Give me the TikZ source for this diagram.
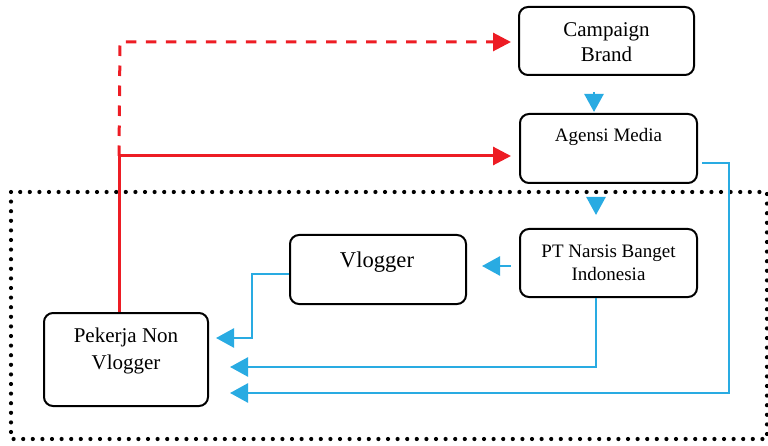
\documentclass[tikz,border=0pt]{standalone}
\usepackage{fontspec}
\setmainfont{Liberation Serif}
\usetikzlibrary{arrows.meta}
\definecolor{myred}{RGB}{237,28,36}
\definecolor{myblue}{RGB}{41,171,226}
\begin{document}
\begin{tikzpicture}[x=1pt,y=-1pt,
  box/.style={draw=black,line width=2pt,rounded corners=9pt,inner sep=0pt},
  txt/.style={align=center,inner sep=0pt},
  redl/.style={draw=myred,line width=3pt,-{Triangle[length=18pt,width=18pt]}},
  bl/.style={draw=myblue,line width=2.5pt,-{Triangle[length=18pt,width=19pt]}},
  dotline/.style={draw=black,line width=4.2pt,line cap=round,dash pattern=on 0pt off 9.6pt}]
\useasboundingbox (0,0) rectangle (768,446);
% dotted frame
\draw[dotline] (11,192) rectangle (767,439);
% boxes
\node[box,minimum width=175pt,minimum height=68pt] (camp) at (606.5,41) {};
\node[box,minimum width=177pt,minimum height=69pt] (agen) at (608.5,148.5) {};
\node[box,minimum width=177pt,minimum height=68pt] (pt) at (608.5,263) {};
\node[box,minimum width=176pt,minimum height=69pt] (vlog) at (378,269.5) {};
\node[box,minimum width=164pt,minimum height=93pt] (pek) at (126,359.5) {};
% texts
\node[txt,font=\fontsize{21}{25}\selectfont] (camptxt) at (606.5,42) {Campaign\\Brand};
\node[txt,font=\fontsize{19}{23}\selectfont] (agentxt) at (608.5,137) {Agensi Media};
\node[txt,font=\fontsize{19}{23}\selectfont] (pttxt) at (608.5,263) {PT Narsis Banget\\Indonesia};
\node[txt,font=\fontsize{22.6}{26}\selectfont] (vlogtxt) at (377,262) {Vlogger};
\node[txt,font=\fontsize{21}{27}\selectfont] (pektxt) at (126,351) {Pekerja Non\\Vlogger};
% red connectors
\coordinate (j1) at (119,156);
\coordinate (j2) at (120,42);
\draw[redl,shorten >=8pt] (pek.north -| j1) -- (j1) -- (j1 -| agen.west);
\draw[redl,dash pattern=on 10.5pt off 9.5pt,shorten >=7pt] (j1) -- (j2) -- (j2 -| camp.west);
% blue connectors
\coordinate (b1) at (594,0);
\coordinate (b2) at (596,0);
\coordinate (b3) at (0,266);
\draw[bl,shorten <=16pt,shorten >=1pt] (camp.south -| b1) -- (agen.north -| b1);
\draw[bl,shorten <=14pt,shorten >=13pt] (agen.south -| b2) -- (pt.north -| b2);
\draw[bl,shorten <=8pt,shorten >=15pt] (pt.west |- b3) -- (vlog.east |- b3);
\coordinate (v1) at (252,274);
\coordinate (v2) at (252,338);
\draw[bl,shorten >=7pt] (vlog.west |- v1) -- (v1) -- (v2) -- (pek.east |- v2);
\coordinate (p1) at (596,367);
\draw[bl,shorten >=21pt] (pt.south -| p1) -- (p1) -- (pek.east |- p1);
\coordinate (a1) at (729,163);
\coordinate (a2) at (729,393);
\draw[bl,shorten <=4pt,shorten >=21pt] (agen.east |- a1) -- (a1) -- (a2) -- (pek.east |- a2);
\end{tikzpicture}
\end{document}
